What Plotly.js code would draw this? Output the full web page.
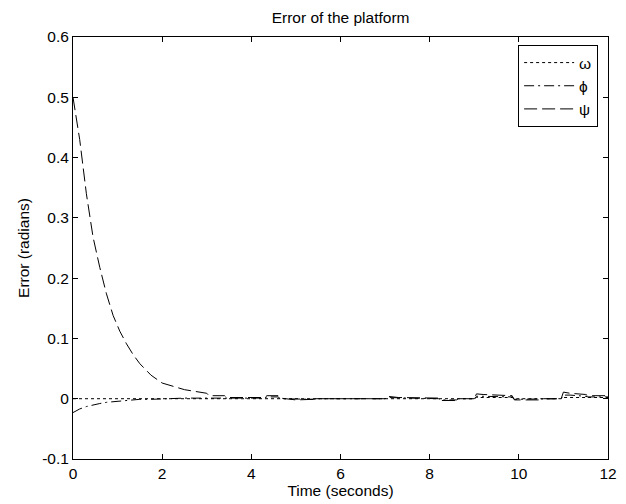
<!DOCTYPE html>
<html>
<head>
<meta charset="utf-8">
<script src="https://cdn.plot.ly/plotly-3.0.1.min.js"></script>
<style>
  html, body { margin: 0; padding: 0; background: #fff; }
  #chart { width: 626px; height: 504px; }
</style>
</head>
<body>
<div id="chart"></div>
<script>
// Sample times (seconds)
const time = [0, 0.15, 0.3, 0.45, 0.6, 0.75, 0.9, 1.05, 1.2, 1.35, 1.5, 1.75, 2.0, 2.25, 2.5, 2.75, 3.0,
  3.05, 3.4, 3.45, 4.3, 4.35, 4.6, 4.65, 5.0, 5.4, 5.45, 7.0, 7.05, 7.3, 7.6, 8.2, 8.25, 8.6, 8.65,
  9.0, 9.05, 9.2, 9.85, 9.9, 10.45, 10.5, 10.95, 11.0, 11.15, 11.5, 11.55, 12.0];

// Platform error per angle (radians)
const omegaErr = [0, 0, 0, 0, 0, 0, 0, 0, 0, 0, 0, 0, 0, 0, 0, 0, 0,
  0, 0, 0, 0, 0, 0, 0, 0, 0, 0, 0, 0, 0, 0, 0, 0, 0, 0,
  0, 0.002, 0.002, 0.002, 0, 0, 0, 0, 0.002, 0.002, 0.002, 0.002, 0.002];

const phiErr = [-0.023, -0.017, -0.013, -0.010, -0.008, -0.006, -0.005, -0.004, -0.003, -0.002, -0.001, -0.001, 0, 0, 0.001, 0.001, 0.001,
  0.002, 0.002, 0.001, 0.001, 0.003, 0.003, 0, -0.001, -0.001, 0, 0, 0.002, 0.001, 0.001, 0, -0.002, -0.002, 0,
  0, 0.004, 0.004, 0.003, -0.001, -0.001, 0, 0, 0.006, 0.006, 0.004, 0.003, 0.003];

const psiErr = [0.5, 0.43, 0.34, 0.268, 0.218, 0.174, 0.138, 0.112, 0.091, 0.073, 0.058, 0.039, 0.026, 0.020, 0.015, 0.012, 0.009,
  0.005, 0.005, 0.002, 0.002, 0.005, 0.005, 0.001, -0.002, -0.001, 0, 0, 0.004, 0.002, 0.002, 0.001, -0.003, -0.003, 0,
  0, 0.008, 0.007, 0.005, -0.002, -0.002, 0, 0, 0.011, 0.009, 0.007, 0.005, 0.005];

const names = ['ω', 'ϕ', 'ψ'];
const xTicks = [0, 2, 4, 6, 8, 10, 12];
const yTicks = [-0.1, 0, 0.1, 0.2, 0.3, 0.4, 0.5, 0.6];

const FONT = 'Liberation Sans, Arial, sans-serif';
const lineStyle = (dash) => ({ color: '#000', width: 1, dash: dash });

const traces = [
  { x: time, y: omegaErr, name: names[0], mode: 'lines', line: lineStyle('3px,3px') },
  { x: time, y: phiErr, name: names[1], mode: 'lines', line: lineStyle('10px,4px,2px,4px') },
  { x: time, y: psiErr, name: names[2], mode: 'lines', line: lineStyle('13px,5px') }
];

const axisCommon = {
  showline: true, linecolor: '#000', linewidth: 1, mirror: 'ticks',
  ticks: 'inside', ticklen: 5, tickcolor: '#000', tickwidth: 1,
  showgrid: false, zeroline: false,
  tickfont: { family: FONT, size: 15.5, color: '#000' }
};

const layout = {
  width: 626, height: 504,
  margin: { l: 73, r: 18, t: 37, b: 45 },
  paper_bgcolor: '#fff', plot_bgcolor: '#fff',
  font: { family: FONT, color: '#000', size: 15.5 },
  title: { text: 'Error of the platform', font: { family: FONT, size: 15.5, color: '#000' },
           x: 0.544, xanchor: 'center', y: 1 - 18 / 504, yanchor: 'middle' },
  xaxis: Object.assign({}, axisCommon, {
    range: [0, 12], tickvals: xTicks, ticktext: xTicks.map(String),
    title: { text: 'Time (seconds)', font: { family: FONT, size: 15.5, color: '#000' }, standoff: 3 }
  }),
  yaxis: Object.assign({}, axisCommon, {
    range: [-0.1, 0.6], tickvals: yTicks, ticktext: yTicks.map(v => String(Math.round(v * 10) / 10)),
    title: { text: 'Error (radians)', font: { family: FONT, size: 15.5, color: '#000' }, standoff: 8 }
  }),
  showlegend: true,
  legend: {
    x: 0.832, y: 0.981, xanchor: 'left', yanchor: 'top',
    bgcolor: '#fff', bordercolor: '#000', borderwidth: 1,
    font: { family: FONT, size: 15.5, color: '#000' },
    itemwidth: 50
  }
};

Plotly.newPlot('chart', traces, layout, { staticPlot: true, displayModeBar: false });
</script>
</body>
</html>
